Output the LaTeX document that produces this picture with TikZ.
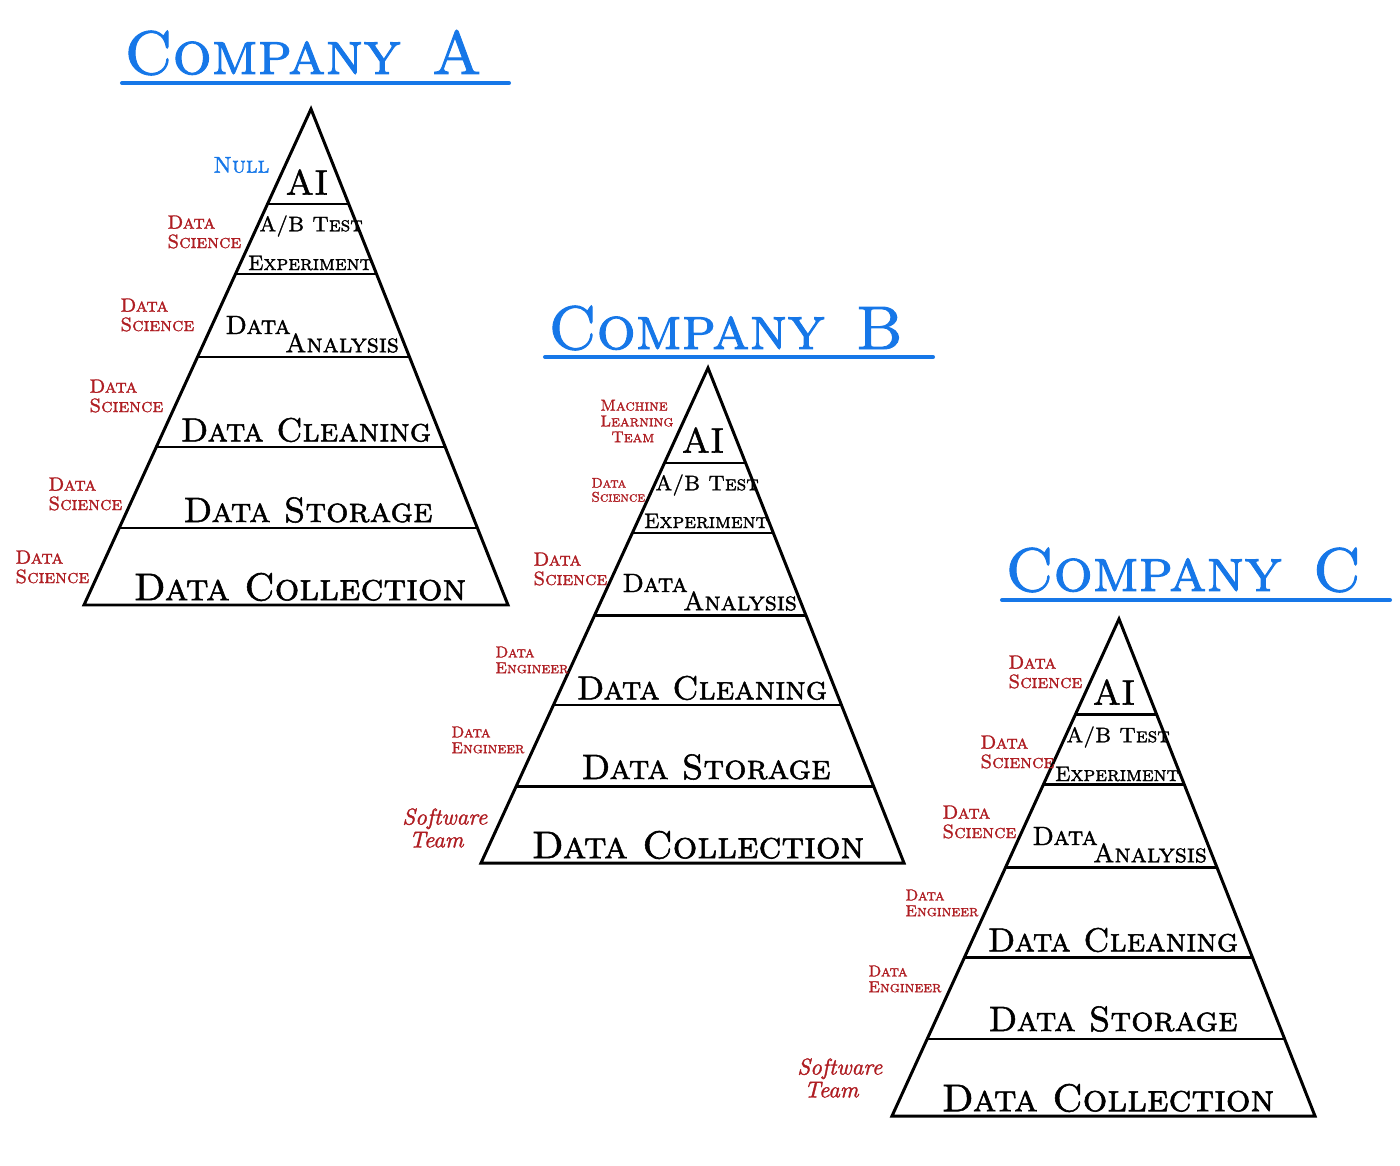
\documentclass[tikz,border=0pt]{standalone}
\usepackage{fontspec}
\usepackage{tikz}
\usetikzlibrary{calc}
\usetikzlibrary{positioning}

\newfontfamily\markerfont{lmromancaps10-regular.otf}[FakeBold=1.5]
\newfontfamily\handfont{lmroman10-italic.otf}[FakeBold=1.5]
\definecolor{titleblue}{RGB}{22,119,232}
\definecolor{rolered}{RGB}{175,30,35}

\begin{document}
\begin{tikzpicture}
        [ x=0.02cm, y=-0.02cm
        , tier/.style={inner sep=0pt, font=\markerfont\fontsize{#1}{#1}\selectfont}
        , tier/.default=20
        , role/.style={inner sep=0pt, anchor=west, align=left, text=rolered, font=\markerfont\fontsize{#1}{#1}\selectfont}
        , role/.default=11
        , title/.style={inner sep=0pt, anchor=base west, text=titleblue, font=\markerfont\fontsize{35}{35}\selectfont}
        , titleline/.style={titleblue, line width=2.3pt, line cap=round}
        , side/.style={line width=1.7pt, line join=miter}
        , layer/.style={line width=1.4pt}
        ]
                \useasboundingbox (0,0) rectangle (1400,1166);

                % the three pyramids
                \foreach \p/\tx/\ty/\lx/\rx/\by in
                    {A/311/109/84/508/605, B/708/368/481/904/863, C/1119/619/892/1315/1116}
                {
                    \coordinate (\p-top) at (\tx,\ty);
                    \coordinate (\p-left) at (\lx,\by);
                    \coordinate (\p-right) at (\rx,\by);
                    \draw[side] (\p-left) -- (\p-top) -- (\p-right) -- cycle;
                    \foreach \t in {0.192,0.333,0.5,0.681,0.845}
                        \draw[layer] ($(\p-top)!\t!(\p-left)$) -- ($(\p-top)!\t!(\p-right)$);
                }

                % company A
                \node[title] (A-title) at (124,74) {Company\enspace A};
                \draw[titleline] (122,83) -- (509,83);
                \node[tier] (A-ai) at (307,182) {AI};
                \node[tier=12] (A-ab) at (311,226) {A/B Test};
                \node[tier=12] (A-exp) at (310,263) {Experiment};
                \node[tier=15] (A-data) at (258,325) {Data};
                \node[tier=15] (A-analysis) at (342,343) {Analysis};
                \node[tier=19] (A-cleaning) at (306,430) {Data Cleaning};
                \node[tier=20] (A-storage) at (308,510) {Data Storage};
                \node[tier=22] (A-collection) at (300,587) {Data Collection};
                \node[role=13, text=titleblue] (A-null) at (213,165) {Null};
                \node[role] (A-role2) at (167,232) {Data\\Science};
                \node[role] (A-role3) at (120,315) {Data\\Science};
                \node[role] (A-role4) at (89,396) {Data\\Science};
                \node[role] (A-role5) at (48,494) {Data\\Science};
                \node[role] (A-role6) at (15,567) {Data\\Science};

                % company B
                \node[title] (B-title) at (548,349) {Company\enspace B};
                \draw[titleline] (545,357) -- (933,357);
                \node[tier] (B-ai) at (703,440) {AI};
                \node[tier=12] (B-ab) at (707,485) {A/B Test};
                \node[tier=12] (B-exp) at (706,521) {Experiment};
                \node[tier=15] (B-data) at (655,583) {Data};
                \node[tier=15] (B-analysis) at (740,601) {Analysis};
                \node[tier=19] (B-cleaning) at (702,688) {Data Cleaning};
                \node[tier=20] (B-storage) at (706,767) {Data Storage};
                \node[tier=22] (B-collection) at (698,845) {Data Collection};
                \node[role=9] (B-role1) at (600,421) {Machine\\Learning\\\hspace*{0.7em}Team};
                \node[role=8] (B-role2) at (591,490) {Data\\Science};
                \node[role] (B-role3) at (533,569) {Data\\Science};
                \node[role=9] (B-role4) at (495,660) {Data\\Engineer};
                \node[role=9] (B-role5) at (451,740) {Data\\Engineer};
                \node[role=13, font=\handfont\fontsize{13}{13}\selectfont] (B-role6) at (402,828) {Software\\\hspace*{0.3em}Team};

                % company C
                \node[title] (C-title) at (1005,591) {Company\enspace C};
                \draw[titleline] (1002,600) -- (1390,600);
                \node[tier] (C-ai) at (1114,692) {AI};
                \node[tier=12] (C-ab) at (1118,737) {A/B Test};
                \node[tier=12] (C-exp) at (1117,774) {Experiment};
                \node[tier=15] (C-data) at (1065,836) {Data};
                \node[tier=15] (C-analysis) at (1150,853) {Analysis};
                \node[tier=19] (C-cleaning) at (1113,940) {Data Cleaning};
                \node[tier=20] (C-storage) at (1113,1019) {Data Storage};
                \node[tier=22] (C-collection) at (1108,1098) {Data Collection};
                \node[role] (C-role1) at (1008,672) {Data\\Science};
                \node[role] (C-role2) at (980,752) {Data\\Science};
                \node[role] (C-role3) at (942,822) {Data\\Science};
                \node[role=9] (C-role4) at (905,903) {Data\\Engineer};
                \node[role=9] (C-role5) at (868,979) {Data\\Engineer};
                \node[role=13, font=\handfont\fontsize{13}{13}\selectfont] (C-role6) at (797,1078) {Software\\\hspace*{0.3em}Team};
        \end{tikzpicture}
\end{document}
